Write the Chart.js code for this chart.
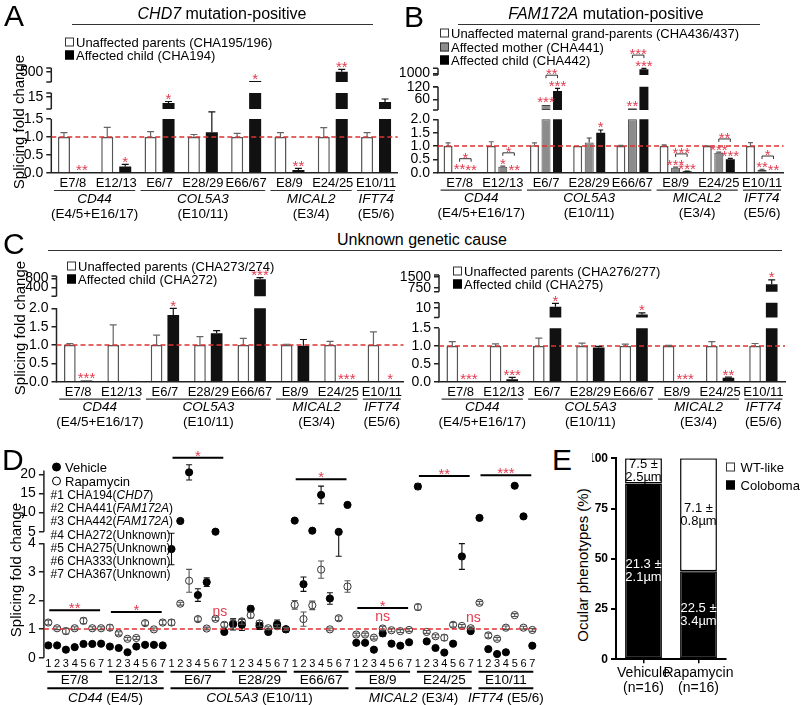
<!DOCTYPE html>
<html>
<head>
<meta charset="utf-8">
<title>Splicing fold change</title>
<script src="https://cdn.jsdelivr.net/npm/chart.js@4.4.1/dist/chart.umd.min.js"></script>
<style>
  body { margin: 0; background: #fff; }
  #page { position: relative; width: 802px; height: 705px; overflow: hidden; background: #fff;
          font-family: "Liberation Sans", Arial, sans-serif; color: #000; }
  canvas { z-index: 1; }
  .t { position: absolute; white-space: nowrap; line-height: 1; color: #000; z-index: 5; }
  .sq { display: inline-block; width: 7px; height: 7px; border: 1px solid #333; margin-right: 2px; }
  .dot { display: inline-block; width: 9px; height: 9px; border-radius: 50%; border: 1px solid #000;
         box-sizing: border-box; margin-right: 4px; }
  .rule { position: absolute; height: 1.5px; background: #333; z-index: 5; }
</style>
</head>
<body>
<div id="page"></div>
<script>
// ---------- data ----------
const exons = ['E7/8', 'E12/13', 'E6/7', 'E28/29', 'E66/67', 'E8/9', 'E24/25', 'E10/11'];
const genes = ['CD44', 'COL5A3', 'MICAL2', 'IFT74'];
const geneExonsABC = ['(E4/5+E16/17)', '(E10/11)', '(E3/4)', '(E5/6)'];
const geneExonsD = ['(E4/5)', '(E10/11)', '(E3/4)', '(E5/6)'];
const geneSpan = [[0, 1], [2, 4], [5, 6], [7, 7]];

// A: CHD7 mutation-positive
const aParents = [1, 1, 1, 1, 1, 1, 1, 1];
const aParentsErr = [0.12, 0.27, 0.15, 0.07, 0.10, 0.12, 0.26, 0.12];
const aChild = [0.02, 0.18, 9, 1.13, 136, 0.08, 500, 10];
const aChildErr = [0, 0.06, 1.5, 0.57, 0, 0.05, 95, 3];
const aStars = ['**', '*', '*', '', '*', '**', '**', ''];

// B: FAM172A mutation-positive
const bGrand = [1, 1, 1.03, 1, 1, 1, 1, 1];
const bGrandErr = [0.12, 0.16, 0.09, 0, 0.02, 0.04, 0.01, 0.13];
const bMother = [0.03, 0.22, 34, 1.13, 18, 0.19, 0.75, 0.1];
const bMotherErr = [0, 0.03, 0, 0.17, 0, 0.02, 0.02, 0.03];
const bChild = [0.01, 0.01, 100, 1.5, 1250, 0.05, 0.5, 0.01];
const bChildErr = [0, 0, 12, 0.1, 50, 0.01, 0.04, 0];
const bMotherStars = ['**', '*', '***', '', '**', '***', '***', '**'];
const bChildStars = ['**', '**', '***', '*', '***', '***', '***', '**'];
const bPairStars = ['*', '*', '**', '', '***', '***', '**', '*'];

// C left: CHA272 family
const cLParents = [1, 1, 1, 1, 1, 1, 1, 1];
const cLParentsErr = [0.04, 0.55, 0.27, 0.23, 0.18, 0.02, 0.1, 0.36];
const cLChild = [0.03, 0.01, 1.82, 1.32, 760, 0.98, 0.005, 0];
const cLChildErr = [0, 0, 0.18, 0.07, 70, 0.17, 0, 0];
const cLStars = ['***', '', '*', '', '***', '', '***', '*'];

// C right: CHA275 family
const cRParents = [1, 1, 1, 1, 1, 1, 1, 1];
const cRParentsErr = [0.12, 0.06, 0.22, 0.08, 0.05, 0.02, 0.12, 0.07];
const cRChild = [0.01, 0.07, 11, 0.96, 5.3, 0.003, 0.11, 1000];
const cRChildErr = [0, 0.05, 2.5, 0.03, 1.2, 0, 0.02, 290];
const cRStars = ['***', '***', '*', '', '*', '***', '**', '*'];

// D: vehicle vs rapamycin, samples #1..#7 per exon pair
const samples = ['1', '2', '3', '4', '5', '6', '7'];
const dVehicle = [
  0.43, 0.43, 0.28, 0.37, 0.48, 0.48, 0.49,
  0.39, 0.34, 0.19, 0.39, 0.45, 0.45, 0.43,
  3.8, 7.8, 20.5, 2.19, 2.64, 5.0, 0.9,
  1.17, 1.15, 1.71, 1.11, 0.9, 1.17, 0.99,
  7.9, 2.57, 5.26, 14.6, 2.07, 4.4, 12,
  0.52, 0.52, 0.28, 0.85, 0.49, 0.42, 0.54,
  16.8, 0.57, 0.34, 0.18, 0.49, 3.54, 0.93,
  8.6, 0.3, 0.13, 0.19, 17, 9, 0.42];
const dVehicleErr = [
  0, 0, 0, 0, 0, 0, 0,
  0, 0, 0, 0, 0, 0, 0,
  0.55, 0.6, 2.0, 0.22, 0.15, 0, 0,
  0.2, 0.2, 0.1, 0.12, 0.05, 0.15, 0.1,
  0, 0.25, 0, 2.3, 0.2, 0.85, 0,
  0, 0, 0, 0.1, 0, 0, 0,
  0.8, 0, 0, 0, 0, 0.45, 0,
  0, 0, 0, 0, 0, 0, 0];
const dRapamycin = [
  1.23, 1.03, 0.93, 1.03, 1.29, 1.03, 1.03,
  1.05, 0.85, 0.66, 0.69, 1.21, 0.99, 1.23,
  1.23, 1.89, 2.69, 1.35, 1.02, 1.36, 1.15,
  1.2, 1.27, 1.49, 1.2, 1.03, 1.1, 1.0,
  1.85, 1.35, 1.83, 3.08, 0.99, 1.38, 2.49,
  0.81, 0.81, 0.7, 1.02, 0.96, 0.93, 0.97,
  1.77, 0.9, 0.75, 0.7, 1.15, 1.11, 1.03,
  1.92, 0.78, 0.66, 1.05, 1.49, 1.05, 0.97];
const dRapamycinErr = [
  0.08, 0.05, 0.1, 0.05, 0.1, 0.05, 0.05,
  0.1, 0.06, 0.05, 0.05, 0.08, 0.05, 0.08,
  0.1, 0.05, 0.4, 0.08, 0.05, 0.06, 0.08,
  0.15, 0.1, 0.1, 0.1, 0.05, 0.05, 0.05,
  0.15, 0.25, 0.15, 0.3, 0.05, 0.08, 0.2,
  0.05, 0.05, 0.05, 0.08, 0.05, 0.05, 0.05,
  0.1, 0.05, 0.05, 0.1, 0.08, 0.05, 0.05,
  0.05, 0.08, 0.05, 0.06, 0.05, 0.05, 0.05];
const dSigStars = ['**', '*', '*', '', '*', '*', '**', '***'];
const dSigNs = [false, false, false, false, false, true, false, false];
const dNsMarks = [[2, 5.5, 1.6], [6, 6.3, 1.4]]; // [exon pair, sample position, level]

// E: ocular phenotypes
const eGroups = [['Vehicule', '(n=16)'], ['Rapamycin', '(n=16)']];
const eColoboma = [87.5, 43.75];
const eWtLike = [12.5, 56.25];
const eColobomaNote = [['21.3 ±', '2.1µm'], ['22.5 ±', '3.4µm']];
const eWtNote = [['7.5 ±', '2.5µm'], ['7.1 ±', '0.8µm']];

// ---------- helpers ----------
const FONT = '"Liberation Sans", Arial, sans-serif';
const RED = '#e23b4e';
Chart.defaults.font.family = FONT;
Chart.defaults.color = '#000';
const page = document.getElementById('page');

const WHITE = { fill: '#fff', line: '#555', border: 1.5, errColor: '#666' };
const GRAY = { fill: '#8c8c8c', line: '#444', border: 1, errColor: '#444' };
const BLACK = { fill: '#111', line: '#111', border: 0, errColor: '#111' };

function addCanvas(b) {
  const c = document.createElement('canvas');
  c.width = b.width; c.height = b.height;
  c.style.cssText = `position:absolute;left:${b.left}px;top:${b.top}px;width:${b.width}px;height:${b.height}px`;
  page.appendChild(c);
  return c;
}

function put(html, x, y, css, ax) {
  const d = document.createElement('div');
  d.className = 't';
  d.innerHTML = html;
  d.style.cssText = `left:${x}px;top:${y}px;transform:translate(${-(ax || 0) * 100}%,-50%);` + (css || '');
  page.appendChild(d);
}

function yTitle(str, cx, cy, size) {
  const d = document.createElement('div');
  d.className = 't';
  d.textContent = str;
  d.style.cssText = `left:${cx}px;top:${cy}px;font-size:${size}px;transform:translate(-50%,-50%) rotate(-90deg);`;
  page.appendChild(d);
}

function rule(x1, x2, y) {
  const d = document.createElement('div');
  d.className = 'rule';
  d.style.cssText = `left:${x1}px;top:${y}px;width:${x2 - x1}px;`;
  page.appendChild(d);
}

// value -> display units of a broken axis
function toDisp(segs, v) {
  let s = segs[0];
  for (const t of segs) if (v >= t.lo) s = t;
  return s.d0 + (v - s.lo) / (s.hi - s.lo) * (s.d1 - s.d0);
}

function stars(ctx, s, x, base) {
  ctx.save();
  ctx.fillStyle = RED;
  ctx.font = '15px ' + FONT;
  ctx.textAlign = 'center';
  ctx.textBaseline = 'alphabetic';
  ctx.fillText(s, x, base);
  ctx.restore();
}

function dashedOne(ctx, ca, y) {
  ctx.save();
  ctx.strokeStyle = '#dd3333';
  ctx.lineWidth = 1.5;
  ctx.setLineDash([5, 3]);
  ctx.beginPath(); ctx.moveTo(ca.left, y); ctx.lineTo(ca.right, y); ctx.stroke();
  ctx.restore();
}

function drawSegments(ctx, ca, ys, segs, ends) {
  ctx.save();
  ctx.strokeStyle = '#222';
  ctx.lineWidth = 1.5;
  segs.forEach((s, k) => {
    const a = ys.getPixelForValue(s.d0), b = ys.getPixelForValue(s.d1);
    ctx.beginPath();
    ctx.moveTo(ca.left, a); ctx.lineTo(ca.left, b);
    if (k > 0 && ends) {
      ctx.moveTo(ca.left - 5, a); ctx.lineTo(ca.left, a);
      ctx.moveTo(ca.left - 5, b); ctx.lineTo(ca.left, b);
    }
    ctx.stroke();
  });
  ctx.restore();
}

function yTicks(segs) {
  const list = [], names = {};
  segs.forEach(seg => seg.ticks.forEach(t => {
    const d = toDisp(segs, t);
    list.push(d);
    names[d.toFixed(4)] = seg.dec ? t.toFixed(seg.dec) : String(t);
  }));
  list.sort((p, q) => p - q);
  return { list, names };
}

function barPlugin(o) {
  return {
    id: 'bars' + o.box.left + 'x' + o.box.top,
    afterDatasetsDraw(chart) {
      const ctx = chart.ctx, xs = chart.scales.x, ys = chart.scales.y, ca = chart.chartArea;
      const py = v => ys.getPixelForValue(toDisp(o.segs, v));
      drawSegments(ctx, ca, ys, o.segs, true);
      dashedOne(ctx, ca, py(1));

      ctx.save();
      const glyphTop = [];
      o.series.forEach((s, si) => {
        const meta = chart.getDatasetMeta(si * o.segs.length);
        glyphTop[si] = [];
        s.values.forEach((v, i) => {
          const x = meta.data[i].x;
          let top = py(v);
          const e = s.err[i];
          if (e > 0) {
            const t = py(v + e);
            ctx.strokeStyle = s.errColor; ctx.lineWidth = 1.2;
            ctx.beginPath();
            ctx.moveTo(x, top); ctx.lineTo(x, t);
            ctx.moveTo(x - o.cap, t); ctx.lineTo(x + o.cap, t);
            ctx.stroke();
            top = t;
          }
          glyphTop[si][i] = top;
          if (s.stars && s.stars[i]) {
            stars(ctx, s.stars[i], x, top + 2.5);
            glyphTop[si][i] = top + 2.5 - 10.7;
          }
        });
      });

      if (o.pairs) {
        const [a, b] = o.pairs.between;
        const ma = chart.getDatasetMeta(a * o.segs.length), mb = chart.getDatasetMeta(b * o.segs.length);
        o.pairs.labels.forEach((lab, i) => {
          if (!lab) return;
          const x1 = ma.data[i].x, x2 = mb.data[i].x;
          const y = Math.min(glyphTop[a][i], glyphTop[b][i]) - 5;
          ctx.strokeStyle = '#333'; ctx.lineWidth = 1;
          ctx.beginPath();
          ctx.moveTo(x1, y + 3); ctx.lineTo(x1, y); ctx.lineTo(x2, y); ctx.lineTo(x2, y + 3);
          ctx.stroke();
          stars(ctx, lab, (x1 + x2) / 2, y + 4);
        });
      }

      // gene groups under the exon labels
      const y0 = ca.bottom;
      ctx.fillStyle = '#000'; ctx.strokeStyle = '#333'; ctx.lineWidth = 1.2;
      ctx.textAlign = 'center'; ctx.textBaseline = 'middle';
      genes.forEach((g, k) => {
        const x1 = xs.getPixelForValue(geneSpan[k][0]) - 19, x2 = xs.getPixelForValue(geneSpan[k][1]) + 19;
        ctx.beginPath(); ctx.moveTo(x1, y0 + 17.5); ctx.lineTo(x2, y0 + 17.5); ctx.stroke();
        ctx.font = 'italic 13.5px ' + FONT;
        ctx.fillText(g, (x1 + x2) / 2, y0 + 26);
        ctx.font = '13.5px ' + FONT;
        ctx.fillText(geneExonsABC[k], (x1 + x2) / 2, y0 + 41);
      });
      ctx.restore();
    }
  };
}

function brokenBarChart(o) {
  const datasets = [];
  o.series.forEach((s, si) => {
    o.segs.forEach((seg, k) => {
      const next = o.segs[k + 1];
      datasets.push({
        data: s.values.map(v => {
          if (k > 0 && v < seg.lo) return null;
          const top = next && v >= next.lo ? seg.d1 : toDisp(o.segs, v);
          return [k === 0 ? 0 : seg.d0, top];
        }),
        stack: 's' + si,
        backgroundColor: s.fill,
        borderColor: s.line,
        borderWidth: s.border,
        borderSkipped: k === 0 ? 'start' : false,
        categoryPercentage: o.cp,
        barPercentage: o.bp
      });
    });
  });
  const tk = yTicks(o.segs);
  new Chart(addCanvas(o.box), {
    type: 'bar',
    data: { labels: exons, datasets },
    options: {
      responsive: false,
      animation: false,
      layout: { autoPadding: false, padding: { left: 0, top: o.topY - o.box.top, right: o.box.left + o.box.width - o.plotRight, bottom: 0 } },
      plugins: { legend: { display: false }, tooltip: { enabled: false } },
      scales: {
        x: {
          type: 'category', offset: true,
          grid: { display: false, drawTicks: false },
          border: { display: true, color: '#222', width: 1.5 },
          ticks: { font: { size: 13 }, padding: 3, autoSkip: false, maxRotation: 0, color: '#000' },
          afterFit: s => { s.height = o.box.top + o.box.height - o.y0; }
        },
        y: {
          type: 'linear', stacked: false, bounds: 'data',
          min: 0, max: (o.y0 - o.topY) / o.ppu,
          afterBuildTicks: s => { s.ticks = tk.list.map(v => ({ value: v })); },
          ticks: { autoSkip: false, font: { size: 14 }, padding: 3, color: '#000', callback: v => tk.names[v.toFixed(4)] ?? '' },
          grid: { drawOnChartArea: false, drawTicks: true, tickLength: 5, color: '#222', lineWidth: 1.5 },
          border: { display: false },
          afterFit: s => { s.width = o.axisX - o.box.left; }
        }
      }
    },
    plugins: [barPlugin(o)]
  });
}

// ---------- panels A, B, C ----------
brokenBarChart({
  box: { left: 0, top: 30, width: 400, height: 198 }, axisX: 51.3, plotRight: 397.7, y0: 173, ppu: 36, topY: 62,
  cp: 0.83, bp: 0.67, cap: 3.5,
  segs: [
    { lo: 0, hi: 1.5, d0: 0, d1: 1.5, ticks: [0, 0.5, 1, 1.5], dec: 1 },
    { lo: 3, hi: 19, d0: 1.78, d1: 2.22, ticks: [15] },
    { lo: 100, hi: 650, d0: 2.53, d1: 2.92, ticks: [500] }
  ],
  series: [
    { values: aParents, err: aParentsErr, ...WHITE },
    { values: aChild, err: aChildErr, stars: aStars, ...BLACK }
  ]
});

brokenBarChart({
  box: { left: 400, top: 30, width: 402, height: 198 }, axisX: 438, plotRight: 783.6, y0: 172.7, ppu: 26.7, topY: 62,
  cp: 0.8, bp: 0.78, cap: 2.5,
  segs: [
    { lo: 0, hi: 2, d0: 0, d1: 2, ticks: [0, 0.5, 1, 1.5, 2], dec: 1 },
    { lo: 10, hi: 120, d0: 2.35, d1: 3.22, ticks: [60, 120] },
    { lo: 900, hi: 1300, d0: 3.66, d1: 3.91, ticks: [1000] }
  ],
  series: [
    { values: bGrand, err: bGrandErr, ...WHITE },
    { values: bMother, err: bMotherErr, stars: bMotherStars, ...GRAY },
    { values: bChild, err: bChildErr, stars: bChildStars, ...BLACK }
  ],
  pairs: { between: [1, 2], labels: bPairStars }
});

brokenBarChart({
  box: { left: 0, top: 255, width: 405, height: 180 }, axisX: 56.5, plotRight: 403.5, y0: 381.7, ppu: 36.7, topY: 270,
  cp: 0.77, bp: 0.7, cap: 3.5,
  segs: [
    { lo: 0, hi: 2, d0: 0, d1: 2, ticks: [0, 0.5, 1, 1.5, 2], dec: 1 },
    { lo: 10, hi: 900, d0: 2.33, d1: 2.88, ticks: [400, 800] }
  ],
  series: [
    { values: cLParents, err: cLParentsErr, ...WHITE },
    { values: cLChild, err: cLChildErr, stars: cLStars, ...BLACK }
  ]
});

brokenBarChart({
  box: { left: 400, top: 255, width: 402, height: 180 }, axisX: 439, plotRight: 785, y0: 381.7, ppu: 35.7, topY: 268,
  cp: 0.77, bp: 0.7, cap: 3.5,
  segs: [
    { lo: 0, hi: 1.5, d0: 0, d1: 1.5, ticks: [0, 0.5, 1, 1.5], dec: 1 },
    { lo: 3, hi: 14, d0: 1.80, d1: 2.21, ticks: [10] },
    { lo: 500, hi: 1620, d0: 2.52, d1: 2.99, ticks: [750, 1500] }
  ],
  series: [
    { values: cRParents, err: cRParentsErr, ...WHITE },
    { values: cRChild, err: cRChildErr, stars: cRStars, ...BLACK }
  ]
});

// ---------- panel D ----------
const dSegs = [
  { lo: 0, hi: 4, d0: 0, d1: 4.1, ticks: [0, 1, 2, 3, 4] },
  { lo: 5, hi: 21, d0: 4.516, d1: 4.516 + 16 * 3.83 / 27.9, ticks: [5, 10, 15, 20] }
];
const dBox = { left: 0, top: 445, width: 545, height: 260 };
const dTk = yTicks(dSegs);

const dPlugin = {
  id: 'panelD',
  afterDatasetsDraw(chart) {
    const ctx = chart.ctx, xs = chart.scales.x, ys = chart.scales.y, ca = chart.chartArea;
    const py = v => ys.getPixelForValue(toDisp(dSegs, v));
    const px = i => xs.getPixelForValue(i);
    drawSegments(ctx, ca, ys, dSegs, false);
    dashedOne(ctx, ca, py(1));

    ctx.save();
    [[dVehicle, dVehicleErr, '#111'], [dRapamycin, dRapamycinErr, '#555']].forEach(([vals, errs, col], di) => {
      const meta = chart.getDatasetMeta(di);
      ctx.strokeStyle = col; ctx.lineWidth = 1.1;
      vals.forEach((v, i) => {
        const e = errs[i];
        if (!e) return;
        const x = meta.data[i].x, a = py(v - e), b = py(v + e);
        ctx.beginPath();
        ctx.moveTo(x, a); ctx.lineTo(x, b);
        ctx.moveTo(x - 3, a); ctx.lineTo(x + 3, a);
        ctx.moveTo(x - 3, b); ctx.lineTo(x + 3, b);
        ctx.stroke();
      });
    });

    // significance bars per exon pair
    exons.forEach((ex, g) => {
      if (!dSigStars[g]) return;
      let top = Infinity;
      for (let i = g * 7; i < g * 7 + 7; i++) {
        top = Math.min(top, py(dVehicle[i] + dVehicleErr[i]), py(dVehicle[i]) - 3.6,
          py(dRapamycin[i] + dRapamycinErr[i]), py(dRapamycin[i]) - 3.6);
      }
      const y = top - 7 - (dSigNs[g] ? 10 : 0);
      ctx.strokeStyle = '#000'; ctx.lineWidth = 2;
      ctx.beginPath(); ctx.moveTo(px(g * 7) + 1, y); ctx.lineTo(px(g * 7 + 6) - 1, y); ctx.stroke();
      stars(ctx, dSigStars[g], (px(g * 7) + px(g * 7 + 6)) / 2, y + 3);
      if (dSigNs[g]) {
        ctx.fillStyle = RED; ctx.font = '14px ' + FONT; ctx.textAlign = 'center'; ctx.textBaseline = 'middle';
        ctx.fillText('ns', (px(g * 7) + px(g * 7 + 6)) / 2, y + 9);
      }
    });
    dNsMarks.forEach(([g, pos, level]) => {
      ctx.fillStyle = RED; ctx.font = '14px ' + FONT; ctx.textAlign = 'center'; ctx.textBaseline = 'middle';
      ctx.fillText('ns', px(g * 7 + pos), py(level));
    });

    // exon and gene rows
    const y0 = ca.bottom;
    ctx.fillStyle = '#000'; ctx.strokeStyle = '#000'; ctx.lineWidth = 2;
    ctx.textAlign = 'center'; ctx.textBaseline = 'middle';
    exons.forEach((ex, g) => {
      const x1 = px(g * 7) - 1, x2 = px(g * 7 + 6) + 1;
      ctx.beginPath(); ctx.moveTo(x1, y0 + 14); ctx.lineTo(x2, y0 + 14); ctx.stroke();
      ctx.font = '13.5px ' + FONT;
      ctx.fillText(ex, (x1 + x2) / 2, y0 + 22.5);
    });
    genes.forEach((gname, k) => {
      const x1 = px(geneSpan[k][0] * 7) - 1, x2 = px(geneSpan[k][1] * 7 + 6) + 1;
      ctx.beginPath(); ctx.moveTo(x1, y0 + 30.6); ctx.lineTo(x2, y0 + 30.6); ctx.stroke();
      ctx.font = 'italic 13.5px ' + FONT;
      const w1 = ctx.measureText(gname).width;
      ctx.font = '13.5px ' + FONT;
      const rest = ' ' + geneExonsD[k];
      const w2 = ctx.measureText(rest).width;
      const start = (x1 + x2) / 2 - (w1 + w2) / 2;
      ctx.textAlign = 'left';
      ctx.font = 'italic 13.5px ' + FONT;
      ctx.fillText(gname, start, y0 + 40.6);
      ctx.font = '13.5px ' + FONT;
      ctx.fillText(rest, start + w1, y0 + 40.6);
      ctx.textAlign = 'center';
    });
    ctx.restore();
  }
};

new Chart(addCanvas(dBox), {
  type: 'line',
  data: {
    labels: exons.flatMap(() => samples),
    datasets: [
      { label: 'Vehicle', data: dVehicle.map(v => toDisp(dSegs, v)), showLine: false, pointRadius: 3.6,
        pointBackgroundColor: '#000', pointBorderColor: '#000', pointBorderWidth: 1, clip: false },
      { label: 'Rapamycin', data: dRapamycin.map(v => toDisp(dSegs, v)), showLine: false, pointRadius: 3.6,
        pointBackgroundColor: '#fff', pointBorderColor: '#333', pointBorderWidth: 1, clip: false }
    ]
  },
  options: {
    responsive: false,
    animation: false,
    layout: { autoPadding: false, padding: { left: 0, top: 462 - dBox.top, right: dBox.left + dBox.width - 536.7, bottom: 0 } },
    plugins: { legend: { display: false }, tooltip: { enabled: false } },
    scales: {
      x: {
        type: 'category', offset: true,
        grid: { display: false, drawTicks: false },
        border: { display: false },
        ticks: { font: { size: 11 }, padding: 0, autoSkip: false, maxRotation: 0, color: '#000' },
        afterFit: s => { s.height = dBox.top + dBox.height - 657.7; }
      },
      y: {
        type: 'linear', bounds: 'data', min: 0, max: (657.7 - 462) / 27.9,
        afterBuildTicks: s => { s.ticks = dTk.list.map(v => ({ value: v })); },
        ticks: { autoSkip: false, font: { size: 14 }, padding: 3, color: '#000', callback: v => dTk.names[v.toFixed(4)] ?? '' },
        grid: { drawOnChartArea: false, drawTicks: true, tickLength: 5, color: '#222', lineWidth: 1.5 },
        border: { display: false },
        afterFit: s => { s.width = 43.9 - dBox.left; }
      }
    }
  },
  plugins: [dPlugin]
});

// ---------- panel E ----------
const eBox = { left: 592, top: 445, width: 210, height: 260 };
const ePlugin = {
  id: 'panelE',
  afterDatasetsDraw(chart) {
    const ctx = chart.ctx;
    ctx.save();
    ctx.font = '13px ' + FONT; ctx.textAlign = 'center'; ctx.textBaseline = 'middle';
    [[0, eColobomaNote, '#fff'], [1, eWtNote, '#000']].forEach(([di, notes, col]) => {
      const meta = chart.getDatasetMeta(di);
      ctx.fillStyle = col;
      notes.forEach((lines, i) => {
        const el = meta.data[i];
        const cy = (el.y + el.base) / 2;
        ctx.fillText(lines[0], el.x, cy - 6.5);
        ctx.fillText(lines[1], el.x, cy + 6.5);
      });
    });
    ctx.restore();
  }
};

new Chart(addCanvas(eBox), {
  type: 'bar',
  data: {
    labels: eGroups,
    datasets: [
      { label: 'Coloboma', data: eColoboma, backgroundColor: '#000', borderColor: '#000', borderWidth: 1.5,
        borderSkipped: false, categoryPercentage: 1, barPercentage: 0.67 },
      { label: 'WT-like', data: eWtLike, backgroundColor: '#fff', borderColor: '#000', borderWidth: 1.5,
        borderSkipped: false, categoryPercentage: 1, barPercentage: 0.67 }
    ]
  },
  options: {
    responsive: false,
    animation: false,
    layout: { autoPadding: false, padding: { left: 0, top: 458.3 - eBox.top, right: eBox.left + eBox.width - 726, bottom: 0 } },
    plugins: { legend: { display: false }, tooltip: { enabled: false } },
    scales: {
      x: {
        stacked: true,
        grid: { display: true, drawOnChartArea: false, drawTicks: true, tickLength: 4, offset: false, color: '#000', lineWidth: 1.5 },
        border: { display: true, color: '#000', width: 2 },
        ticks: { font: { size: 14, lineHeight: 1.07 }, padding: 2, color: '#000', autoSkip: false, maxRotation: 0, minRotation: 0 },
        afterFit: s => { s.height = eBox.top + eBox.height - 659.3; }
      },
      y: {
        stacked: true, min: 0, max: 100,
        ticks: { stepSize: 25, font: { size: 12, weight: 'bold' }, padding: 3, color: '#000' },
        grid: { drawOnChartArea: false, drawTicks: true, tickLength: 5, color: '#000', lineWidth: 2 },
        border: { display: true, color: '#000', width: 2 },
        afterFit: s => { s.width = 616 - eBox.left; }
      }
    }
  },
  plugins: [ePlugin]
});

// ---------- titles, legends, letters ----------
const L = 'font-size:30px;';
put('A', 4, 16, L); put('B', 404, 17, L); put('C', 3, 244, L); put('D', 2, 460, L); put('E', 552, 460, L);

put('<i>CHD7</i> mutation-positive', 222, 14, 'font-size:16px;', 0.5); rule(72, 373, 23.5);
put('<i>FAM172A</i> mutation-positive', 606, 14, 'font-size:16px;', 0.5); rule(458, 760, 23.5);
put('Unknown genetic cause', 422, 240, 'font-size:16px;', 0.5); rule(48, 782, 249.5);

const sqW = '<span class="sq" style="background:#fff"></span>';
const sqG = '<span class="sq" style="background:#8c8c8c"></span>';
const sqB = '<span class="sq" style="background:#000;border-color:#000"></span>';
const LG = 'font-size:13px;';
put(sqW + 'Unaffected parents (CHA195/196)', 65, 42, LG);
put(sqB + 'Affected child (CHA194)', 65, 55, LG);
put(sqW + 'Unaffected maternal grand-parents (CHA436/437)', 440, 33, LG);
put(sqG + 'Affected mother (CHA441)', 440, 46.5, LG);
put(sqB + 'Affected child (CHA442)', 440, 60, LG);
put(sqW + 'Unaffected parents (CHA273/274)', 67, 266, LG);
put(sqB + 'Affected child (CHA272)', 67, 279, LG);
put(sqW + 'Unaffected parents (CHA276/277)', 453, 271, LG);
put(sqB + 'Affected child (CHA275)', 453, 284, LG);

put('<span class="dot" style="background:#000"></span>Vehicle', 52, 467, LG);
put('<span class="dot" style="background:#fff"></span>Rapamycin', 52, 480.5, LG);
const dLegend = ['#1 CHA194(<i>CHD7</i>)', '#2 CHA441(<i>FAM172A</i>)', '#3 CHA442(<i>FAM172A</i>)',
  '#4 CHA272(Unknown)', '#5 CHA275(Unknown)', '#6 CHA333(Unknown)', '#7 CHA367(Unknown)'];
dLegend.forEach((s, i) => put(s, 50.5, 495 + i * 13.2, 'font-size:12px;'));

put(sqW + ' WT-like', 726, 467, LG);
put(sqB + ' Coloboma', 726, 485, LG);

yTitle('Splicing fold change', 18, 122, 15);
yTitle('Splicing fold change', 19, 328, 15);
yTitle('Splicing fold change', 15, 570, 15);
yTitle('Ocular phenotypes (%)', 582, 565, 15);
</script>
</body>
</html>
